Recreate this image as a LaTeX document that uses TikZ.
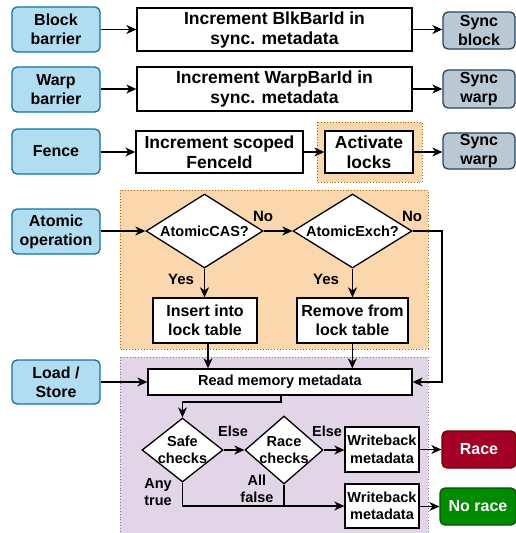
\documentclass[tikz,border=0pt]{standalone}
\usepackage{fontspec}
\setmainfont{Liberation Sans}
\usetikzlibrary{arrows.meta,shapes.geometric}
\definecolor{bluefill}{HTML}{B1DDF0}
\definecolor{bluedraw}{HTML}{10739E}
\definecolor{greyfill}{HTML}{BAC8D3}
\definecolor{greydraw}{HTML}{23445D}
\definecolor{orfill}{HTML}{FAD7AC}
\definecolor{ordraw}{HTML}{B46504}
\definecolor{pufill}{HTML}{E1D5E7}
\definecolor{pudraw}{HTML}{9673A6}
\definecolor{redfill}{HTML}{A20025}
\definecolor{reddraw}{HTML}{6F0000}
\definecolor{grfill}{HTML}{008A00}
\definecolor{grdraw}{HTML}{005700}
\tikzset{
  base/.style={font=\bfseries, align=center, inner sep=0pt, line width=1.3pt},
  bluebox/.style={base, draw=bluedraw, fill=bluefill, rounded corners=5pt, minimum width=88pt, minimum height=45pt, font=\fontsize{16}{19}\selectfont\bfseries},
  greybox/.style={base, draw=greydraw, fill=greyfill, rounded corners=5pt, minimum width=72pt, minimum height=37pt, font=\fontsize{16}{19}\selectfont\bfseries},
  wbox/.style={base, draw=black, fill=white},
  bigtxt/.style={font=\fontsize{17.5}{20}\selectfont\bfseries},
  midtxt/.style={font=\fontsize{16}{19}\selectfont\bfseries},
  smtxt/.style={font=\fontsize{14.5}{17.5}\selectfont\bfseries},
  dia/.style={base, diamond, draw=black, fill=white, aspect=1.6},
  dtext/.style={align=center, inner sep=0pt, font=\fontsize{14.5}{17.5}\selectfont\bfseries},
  lbl/.style={font=\fontsize{15}{18}\selectfont\bfseries, align=center, inner sep=0pt},
  arr/.style={line width=1.2pt, -{Stealth[length=10pt,width=9pt,inset=3pt]}},
  ln/.style={line width=1.2pt},
  region/.style={line width=0.9pt, dotted},
}
\begin{document}
\begin{tikzpicture}[x=1pt,y=-1pt]
\useasboundingbox (0,0) rectangle (516,533);
% regions
\fill[orfill] (120,190) rectangle (428,349);
\draw[region, draw=ordraw] (120,190) rectangle (428,349);
\fill[pufill] (120,357) rectangle (428,540);
\draw[region, draw=pudraw] (120,357) rectangle (428,540);
\fill[orfill] (317,122) rectangle (422,182);
\draw[region, draw=ordraw] (317,122) rectangle (422,182);

% left inputs
\node[bluebox] (bb) at (56,29.5) {Block\\barrier};
\node[bluebox] (wb) at (56,89.5) {Warp\\barrier};
\node[bluebox] (fe) at (56,151.5) {Fence};
\node[bluebox] (ao) at (56,231.5) {Atomic\\operation};
\node[bluebox, minimum height=44pt] (ls) at (56,382) {Load /\\Store};

% rows
\node[wbox, bigtxt, minimum width=275pt, minimum height=43pt] (ib) at (274.5,29.5) {Increment BlkBarId in\\sync. metadata};
\node[wbox, bigtxt, minimum width=275pt, minimum height=44pt] (iw) at (274.5,89) {Increment WarpBarId in\\sync. metadata};
\node[wbox, bigtxt, minimum width=167pt, minimum height=42pt] (isf) at (219.5,152) {Increment scoped\\FenceId};
\node[wbox, bigtxt, minimum width=88pt, minimum height=42pt] (al) at (369,152) {Activate\\locks};

\node[greybox] (sb) at (479,30.5) {Sync\\block};
\node[greybox, minimum height=38pt] (sw) at (479,89) {Sync\\warp};
\node[greybox, minimum height=36pt] (sw2) at (479,151) {Sync\\warp};

\draw[arr] (bb.east |- ib.west) -- (ib.west);
\draw[arr] (ib.east) -- (ib.east -| sb.west);
\draw[arr] (wb.east |- iw.west) -- (iw.west);
\draw[arr] (iw.east) -- (iw.east -| sw.west);
\draw[arr] (fe.east |- isf.west) -- (isf.west);
\draw[arr] (isf.east) -- (al.west);
\draw[arr] (al.east) -- (al.east -| sw2.west);

% atomic section
\node[dia, minimum width=117pt, minimum height=74pt] (cas) at (204.5,231) {};
\node[dtext] (castxt) at (cas.center) {AtomicCAS?};
\node[dia, minimum width=119pt, minimum height=74pt] (exch) at (352.5,231) {};
\node[dtext] (exchtxt) at (exch.center) {AtomicExch?};
\node[wbox, midtxt, minimum width=104pt, minimum height=45pt] (ins) at (205,320.5) {Insert into\\lock table};
\node[wbox, midtxt, minimum width=111pt, minimum height=45pt] (rem) at (352.5,320.5) {Remove from\\lock table};

\draw[arr] (ao.east |- cas.west) -- (cas.west);
\draw[arr] (cas.east) -- (exch.west);
\draw[arr] (cas.south) -- (ins.north -| cas.south);
\draw[arr] (exch.south) -- (rem.north -| exch.south);
\node[lbl] (no1) at (263,216) {No};
\node[lbl] (no2) at (412,216) {No};
\node[lbl] (yes1) at (181,279) {Yes};
\node[lbl] (yes2) at (326,279) {Yes};

% memory section
\node[wbox, smtxt, minimum width=264pt, minimum height=26pt] (rm) at (280,382) {Read memory metadata};
\coordinate (exr) at (442,231);
\draw[arr] (exch.east) -- (exr) -- (exr |- rm.east) -- (rm.east);
\draw[arr] (ins.south -| 208,0) -- (rm.north -| 208,0);
\draw[arr] (rem.south -| 352.3,0) -- (rm.north -| 352.3,0);
\draw[arr] (ls.east |- rm.west) -- (rm.west);

\node[dia, minimum width=81pt, minimum height=64pt] (sc) at (182.5,450) {};
\node[dtext] (sctxt) at (sc.center) {Safe\\checks};
\node[dia, minimum width=78pt, minimum height=68pt] (rc) at (284,450) {};
\node[dtext] (rctxt) at (rc.center) {Race\\checks};
\node[wbox, smtxt, minimum width=74pt, minimum height=45pt] (wb1) at (382,449.5) {Writeback\\metadata};
\node[wbox, smtxt, minimum width=74pt, minimum height=44pt] (wb2) at (382,506) {Writeback\\metadata};
\node[base, draw=reddraw, fill=redfill, text=white, rounded corners=5pt, minimum width=74pt, minimum height=37pt, font=\fontsize{16}{19}\selectfont\bfseries] (race) at (479,449.5) {Race};
\node[base, draw=grdraw, fill=grfill, text=white, rounded corners=5pt, minimum width=76pt, minimum height=37pt, font=\fontsize{16}{19}\selectfont\bfseries] (norace) at (478,506.5) {No race};

\coordinate (rmb) at (281,402);
\draw[arr] (rm.south -| rmb) -- (rmb) -- (rmb -| sc.north) -- (sc.north);
\draw[arr] (sc.east) -- (rc.west);
\draw[arr] (rc.east) -- (rc.east -| wb1.west);
\draw[arr] (wb1.east |- race.west) -- (race.west);
\draw[arr] (wb2.east |- norace.west) -- (norace.west);
\draw[arr] (sc.south) -- (sc.south |- wb2.west) -- (wb2.west);
\draw[ln] (rc.south) -- (rc.south |- wb2.west);

\node[lbl, font=\fontsize{14.5}{17.5}\selectfont\bfseries] (else1) at (233,431) {Else};
\node[lbl, font=\fontsize{14.5}{17.5}\selectfont\bfseries] (else2) at (327,431) {Else};
\node[lbl, font=\fontsize{14.5}{17.5}\selectfont\bfseries] (anyt) at (158,492) {Any\\true};
\node[lbl, font=\fontsize{14.5}{17.5}\selectfont\bfseries] (allf) at (257,489) {All\\false};
\end{tikzpicture}
\end{document}
